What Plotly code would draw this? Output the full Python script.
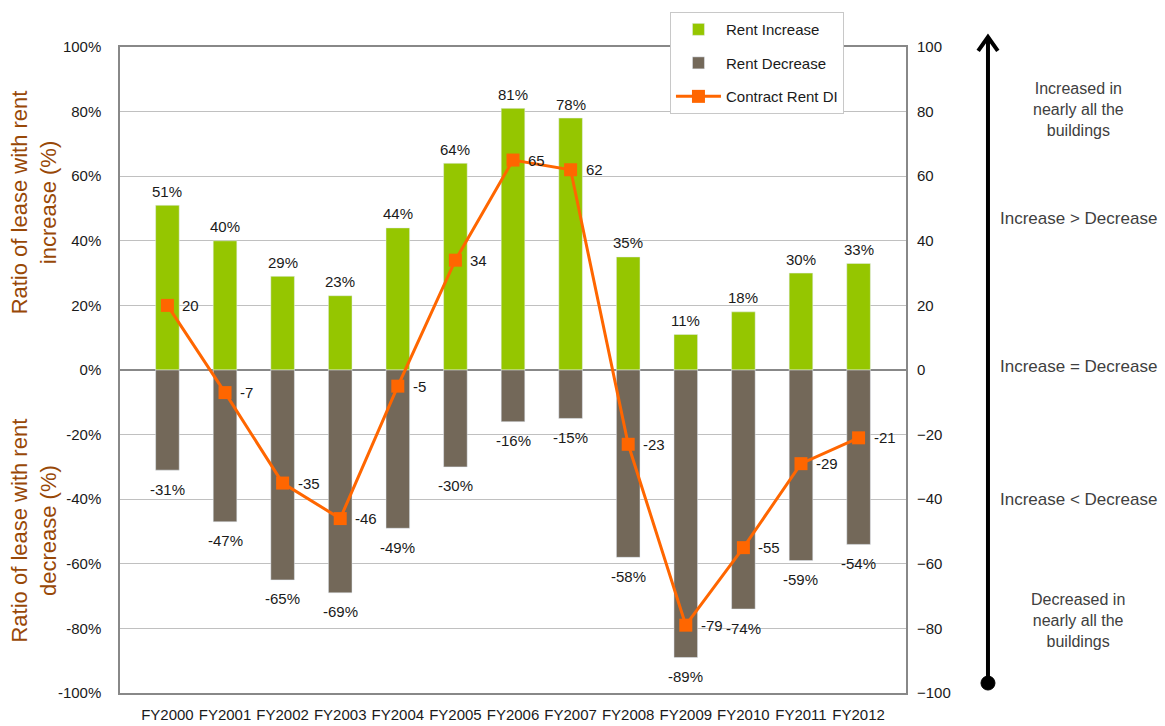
import plotly.graph_objects as go

years = ["FY2000", "FY2001", "FY2002", "FY2003", "FY2004", "FY2005", "FY2006",
         "FY2007", "FY2008", "FY2009", "FY2010", "FY2011", "FY2012"]
rent_increase = [51, 40, 29, 23, 44, 64, 81, 78, 35, 11, 18, 30, 33]
rent_decrease = [-31, -47, -65, -69, -49, -30, -16, -15, -58, -89, -74, -59, -54]
contract_di = [20, -7, -35, -46, -5, 34, 65, 62, -23, -79, -55, -29, -21]
left_ticks = [-100, -80, -60, -40, -20, 0, 20, 40, 60, 80, 100]
left_tick_text = [f"{v}%" for v in left_ticks]
right_ticks = left_ticks
side_labels = ["Increased in<br>nearly all the<br>buildings", "Increase > Decrease",
               "Increase = Decrease", "Increase < Decrease",
               "Decreased in<br>nearly all the<br>buildings"]
side_label_y = [80.5, 47, 1.2, -40, -77.5]

FONT = "Liberation Sans, Arial, sans-serif"
GREEN = "#95C600"
BROWN = "#736859"
ORANGE = "#FF6600"
TXT = "#1a1a1a"
FS = 15

fig = go.Figure()
fig.add_trace(go.Bar(
    x=years, y=rent_increase, name="Rent Increase", marker_color=GREEN,
    width=0.41, legendgroup="a"))
fig.add_trace(go.Bar(
    x=years, y=rent_decrease, name="Rent Decrease", marker_color=BROWN,
    width=0.41, legendgroup="b"))
fig.add_trace(go.Scatter(
    x=years, y=contract_di, name="Contract Rent DI", yaxis="y2",
    mode="lines+markers", line=dict(color=ORANGE, width=3),
    marker=dict(symbol="square", size=13, color=ORANGE),
    cliponaxis=False, legendgroup="c"))

annotations = [
    dict(text="Ratio of lease with rent<br>increase (%)", xref="paper", yref="paper",
         x=-0.109, y=0.76, xanchor="center", yanchor="middle", textangle=-90,
         showarrow=False, font=dict(size=22, color="#984807", family=FONT)),
    dict(text="Ratio of lease with rent<br>decrease (%)", xref="paper", yref="paper",
         x=-0.109, y=0.252, xanchor="center", yanchor="middle", textangle=-90,
         showarrow=False, font=dict(size=22, color="#984807", family=FONT)),
]
for yr, v in zip(years, rent_increase):
    annotations.append(dict(x=yr, y=v, xref="x", yref="y", text=f"{v}%",
                            showarrow=False, yshift=14, xanchor="center", yanchor="middle",
                            font=dict(size=FS, color=TXT, family=FONT)))
for yr, v in zip(years, rent_decrease):
    annotations.append(dict(x=yr, y=v, xref="x", yref="y", text=f"{v}%",
                            showarrow=False, yshift=-19, xanchor="center", yanchor="middle",
                            font=dict(size=FS, color=TXT, family=FONT)))
for yr, v in zip(years, contract_di):
    annotations.append(dict(x=yr, y=v, xref="x", yref="y2", text=f"{v}",
                            showarrow=False, xshift=13, xanchor="left", yanchor="middle",
                            font=dict(size=FS, color=TXT, family=FONT)))
for t, yv in zip(side_labels, side_label_y):
    annotations.append(dict(text=t, xref="paper", yref="y2", x=1.219, y=yv,
                            xanchor="center", yanchor="middle",
                            showarrow=False, align="center",
                            font=dict(size=16 if "<br>" in t else 17,
                                      color="#404040", family=FONT)))

ax_x = 1.1043
shapes = [
    dict(type="line", xref="paper", yref="paper", x0=ax_x, x1=ax_x,
         y0=0.0154, y1=1.012, line=dict(color="black", width=4)),
    dict(type="path", xref="paper", yref="paper",
         path=f"M {ax_x-0.0125},0.994 L {ax_x},1.0155 L {ax_x+0.0125},0.994",
         line=dict(color="black", width=4)),
    dict(type="circle", xref="paper", yref="paper",
         x0=ax_x - 0.0089, x1=ax_x + 0.0089, y0=0.0046, y1=0.0262,
         fillcolor="black", line=dict(color="black", width=1)),
]

fig.update_layout(
    width=1165, height=726,
    margin=dict(l=120, r=259, t=45, b=33),
    paper_bgcolor="white", plot_bgcolor="white",
    barmode="relative", bargap=0.59,
    font=dict(family=FONT, size=FS, color=TXT),
    xaxis=dict(showline=True, linecolor="#888888", linewidth=1.5, mirror=True,
               ticks="", ticklabelstandoff=7, automargin=False,
               tickfont=dict(size=FS, color=TXT), showgrid=False),
    yaxis=dict(range=[-100, 100], tickvals=left_ticks, ticktext=left_tick_text,
               showgrid=True, gridcolor="#C0C0C0", gridwidth=1,
               zeroline=True, zerolinecolor="#888888", zerolinewidth=2,
               showline=True, linecolor="#888888", linewidth=1.5, mirror=True,
               ticks="", ticklabelstandoff=14, automargin=False,
               tickfont=dict(size=FS, color=TXT)),
    yaxis2=dict(range=[-100, 100], tickvals=right_ticks, overlaying="y", side="right",
                showgrid=False, zeroline=False, showline=False, ticks="",
                ticklabelstandoff=10, automargin=False,
                tickfont=dict(size=FS, color=TXT)),
    legend=dict(x=0.6997, y=1.054, xanchor="left", yanchor="top",
                bgcolor="white", bordercolor="#C8C8C8", borderwidth=1,
                font=dict(size=FS, color=TXT, family=FONT), itemwidth=45,
                traceorder="grouped", tracegroupgap=11),
    annotations=annotations,
    shapes=shapes,
    showlegend=True,
)

fig.write_html("out.html")
